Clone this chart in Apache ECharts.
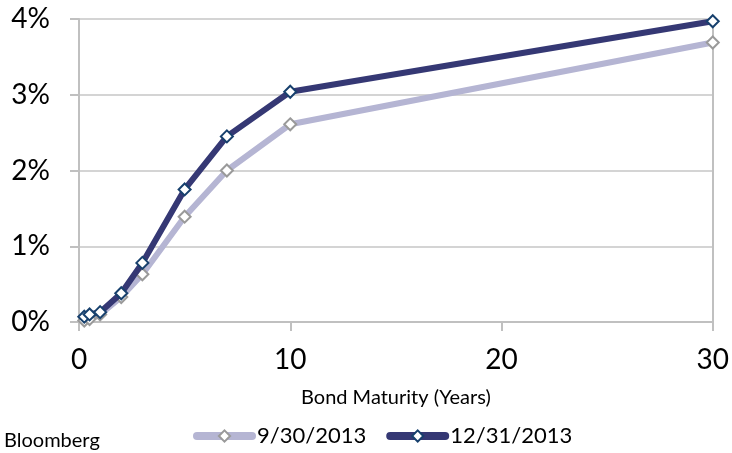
<!DOCTYPE html>
<html><head><meta charset="utf-8">
<script src="https://cdn.jsdelivr.net/npm/echarts@6/dist/echarts.min.js"></script>
<style>html,body{margin:0;padding:0;background:#fff}#c{width:732px;height:453px}</style>
</head><body><div id="c"></div>
<script>
const maturities = [0.25, 0.5, 1, 2, 3, 5, 7, 10, 30];
const sep2013 = [0.02, 0.04, 0.10, 0.33, 0.63, 1.39, 2.00, 2.61, 3.69];
const dec2013 = [0.07, 0.10, 0.13, 0.38, 0.78, 1.75, 2.45, 3.04, 3.97];
const seriesNames = ['9/30/2013', '12/31/2013'];
const xTicks = [0, 10, 20, 30];
const yTicks = [0, 1, 2, 3, 4];
const font = 'Lato, "Open Sans", sans-serif';

const chart = echarts.init(document.getElementById('c'));
const pair = (v) => maturities.map((m, i) => [m, v[i]]);
chart.setOption({
  animation: false,
  textStyle: {fontFamily: font},
  grid: {left: 79, right: 18, top: 19, bottom: 131, containLabel: false},
  legend: {
    left: 188, top: 420,
    itemWidth: 55, itemHeight: 14, itemGap: 20,
    lineStyle: {width: 8, cap: 'round'},
    textStyle: {fontSize: 22, color: '#000', fontFamily: font},
    data: seriesNames
  },
  graphic: [{type: 'text', left: 4, top: 431, style: {text: 'Bloomberg', fontSize: 20, fill: '#000', fontFamily: font}}],
  xAxis: {
    type: 'value', min: 0, max: 30, interval: 10,
    name: 'Bond Maturity (Years)', nameLocation: 'middle', nameGap: 66,
    nameTextStyle: {fontSize: 20, color: '#000', fontFamily: font},
    axisLine: {show: true, lineStyle: {color: '#c0c0c0', width: 2}},
    axisTick: {show: true, length: 9, inside: false, lineStyle: {color: '#c0c0c0', width: 2}},
    axisLabel: {fontSize: 28, color: '#000', margin: 24, fontFamily: font,
      formatter: (v) => xTicks.includes(v) ? String(v) : ''},
    splitLine: {show: false}
  },
  yAxis: [{
    type: 'value', min: 0, max: 4, interval: 1,
    axisLine: {show: true, lineStyle: {color: '#c0c0c0', width: 2}},
    axisTick: {show: true, length: 9, lineStyle: {color: '#c0c0c0', width: 2}},
    axisLabel: {fontSize: 28, color: '#000', margin: 29, fontFamily: font,
      formatter: (v) => yTicks.includes(v) ? v + '%' : ''},
    splitLine: {show: true, lineStyle: {color: '#d4d4d4', width: 2}}
  }, {
    type: 'value', min: 0, max: 4, interval: 1, position: 'right',
    axisLine: {show: true, lineStyle: {color: '#c0c0c0', width: 2}},
    axisTick: {show: false}, axisLabel: {show: false}, splitLine: {show: false}
  }],
  series: [{
    name: seriesNames[0], type: 'line', data: pair(sep2013),
    symbol: 'diamond', symbolSize: 12,
    lineStyle: {color: '#b5b5d3', width: 6},
    itemStyle: {color: '#ffffff', borderColor: '#9a9a9a', borderWidth: 2},
    z: 2
  }, {
    name: seriesNames[1], type: 'line', data: pair(dec2013),
    symbol: 'diamond', symbolSize: 12,
    lineStyle: {color: '#353874', width: 6},
    itemStyle: {color: '#ffffff', borderColor: '#17406d', borderWidth: 2},
    z: 3
  }]
});
</script></body></html>
